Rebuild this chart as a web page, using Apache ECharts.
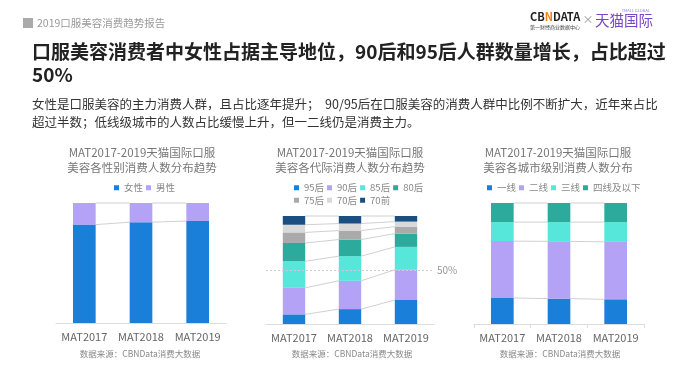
<!DOCTYPE html>
<html><head><meta charset="utf-8">
<script src="https://cdn.jsdelivr.net/npm/echarts@6/dist/echarts.min.js"></script>
<style>html,body{margin:0;padding:0;background:#fff}#c{width:700px;height:365px}</style>
</head><body><div id="c"></div>
<script>
const categories = ['MAT2017', 'MAT2018', 'MAT2019'];

const genderNames = ['女性', '男性'];
const female = [82, 84, 85];
const male = [18, 16, 15];

const genNames = ['95后', '90后', '85后', '80后', '75后', '70后', '70前'];
const gen95 = [8.9, 13.8, 22.2];
const gen90 = [24.6, 26.2, 28.0];
const gen85 = [24.6, 22.8, 21.2];
const gen80 = [16.9, 15.4, 12.3];
const gen75 = [9.8, 8.3, 6.5];
const gen70 = [7.1, 6.5, 4.6];
const genPre70 = [8.1, 7.0, 5.2];

const cityNames = ['一线', '二线', '三线', '四线及以下'];
const tier1 = [21.5, 21.0, 20.4];
const tier2 = [47.0, 47.3, 47.5];
const tier3 = [15.7, 15.9, 16.3];
const tier4 = [15.8, 15.8, 15.8];

const refLine = 50;

const FONT = '"Noto Sans CJK SC", "Noto Sans", sans-serif';
const BAR_RATIO = 0.4;
const colorsGender = ['#1A7FD9', '#B4A2F7'];
const colorsGen = ['#1A7FD9', '#B4A2F7', '#56E6DA', '#2CAB9C', '#AAAAAA', '#D9D9D9', '#1B4F82'];
const colorsCity = ['#1A7FD9', '#B4A2F7', '#56E6DA', '#2CAB9C'];

function cumLevels(arrs) {
  const levels = [];
  let acc = categories.map(() => 0);
  arrs.forEach(s => { acc = acc.map((v, i) => v + s[i]); levels.push(acc.slice()); });
  return levels;
}
function connectorSeries(idx, levels) {
  const data = [];
  levels.forEach(lv => { for (let i = 0; i < lv.length - 1; i++) data.push([i, lv[i], lv[i + 1]]); });
  return {
    type: 'custom', xAxisIndex: idx, yAxisIndex: idx, silent: true, z: 1,
    encode: { x: 0, y: 1 },
    renderItem(params, api) {
      const i = api.value(0);
      const p1 = api.coord([i, api.value(1)]);
      const p2 = api.coord([i + 1, api.value(2)]);
      const half = api.size([1, 0])[0] * BAR_RATIO / 2;
      return { type: 'line', shape: { x1: p1[0] + half, y1: p1[1], x2: p2[0] - half, y2: p2[1] },
        style: { stroke: '#d0d0d0', lineWidth: 1 } };
    },
    data
  };
}
function barSeries(idx, names, arrs, colors, stack) {
  return arrs.map((d, k) => ({
    type: 'bar', name: names[k], xAxisIndex: idx, yAxisIndex: idx, stack: stack,
    barWidth: (BAR_RATIO * 100) + '%', z: 3, itemStyle: { color: colors[k] }, data: d, silent: true
  }));
}

const genderArrs = [female, male];
const genArrs = [gen95, gen90, gen85, gen80, gen75, gen70, genPre70];
const cityArrs = [tier1, tier2, tier3, tier4];

const grids = [
  { left: 56, width: 170, top: 203, height: 120 },
  { left: 266, width: 168, top: 216, height: 108 },
  { left: 474, width: 170, top: 203, height: 121 }
];
const xAxes = grids.map((g, i) => ({
  type: 'category', gridIndex: i, data: categories,
  axisLine: { lineStyle: { color: '#dcdcdc' } },
  axisTick: { show: i === 2, alignWithLabel: false, length: 4, lineStyle: { color: '#dcdcdc' } },
  axisLabel: { color: '#666', fontSize: 11, margin: 8, fontFamily: FONT, interval: 0, hideOverlap: false }
}));
const yAxes = grids.map((g, i) => ({ type: 'value', gridIndex: i, min: 0, max: 100, show: false }));

const legendCommon = { itemWidth: 5, itemHeight: 5, itemGap: 3, icon: 'rect', padding: 0,
  textStyle: { color: '#888', fontSize: 9.5, fontFamily: FONT }, selectedMode: false };

const series = [].concat(
  barSeries(0, genderNames, genderArrs, colorsGender, 'g'),
  barSeries(1, genNames, genArrs, colorsGen, 'a'),
  barSeries(2, cityNames, cityArrs, colorsCity, 'c'),
  [connectorSeries(0, cumLevels(genderArrs)),
   connectorSeries(1, cumLevels(genArrs)),
   connectorSeries(2, cumLevels(cityArrs)),
   { type: 'line', xAxisIndex: 1, yAxisIndex: 1, data: [], z: 1, silent: true,
     markLine: { symbol: 'none', silent: true,
       lineStyle: { color: '#cccccc', type: [2, 2], width: 1 },
       label: { position: 'end', formatter: refLine + '%', color: '#999', fontSize: 10, fontFamily: FONT, distance: 3 },
       data: [{ yAxis: refLine }] } }]
);

function txt(x, y, text, opts) {
  return { type: 'text', x, y, silent: true, style: Object.assign({ text, fontFamily: FONT, fill: '#333', fontSize: 12 }, opts) };
}
const chartTitleStyle = { fill: '#777', fontSize: 11.5, align: 'center', verticalAlign: 'middle', lineHeight: 15 };
const sourceStyle = { fill: '#888', fontSize: 8.5, align: 'center', verticalAlign: 'middle' };

const graphic = [
  { type: 'rect', shape: { x: 23, y: 18, width: 10, height: 10 }, style: { fill: '#aaaaaa' }, silent: true },
  txt(37, 23, '2019口服美容消费趋势报告', { fill: '#999', fontSize: 10.5, verticalAlign: 'middle' }),
  txt(530, 16.5, '{b|CB}{n|N}{b|DATA}', { verticalAlign: 'middle',
    rich: { b: { fontSize: 11, fontWeight: 'bold', fill: '#222', fontFamily: FONT },
            n: { fontSize: 11, fontWeight: 'bold', fill: '#E8841A', fontFamily: FONT } } }),
  txt(530, 27.5, '第一财经商业数据中心', { fontSize: 5, fill: '#444', verticalAlign: 'middle' }),
  txt(588, 20, '×', { fontSize: 11, fill: '#999', verticalAlign: 'middle', align: 'center' }),
  txt(595, 20.5, '天猫国际', { fontSize: 14.5, fill: '#7A45C6', verticalAlign: 'middle' }),
  txt(650, 10, 'TMALL GLOBAL', { fontSize: 4, fill: '#9a7ad0', verticalAlign: 'middle', align: 'right' }),
  txt(32, 40.5, '口服美容消费者中女性占据主导地位，90后和95后人群数量增长，占比超过\n50%',
      { fontSize: 19, fontWeight: 'bold', fill: '#222', verticalAlign: 'top', lineHeight: 23 }),
  txt(32, 95, '女性是口服美容的主力消费人群，且占比逐年提升；  90/95后在口服美容的消费人群中比例不断扩大，近年来占比\n超过半数；低线级城市的人数占比缓慢上升，但一二线仍是消费主力。',
      { fontSize: 12.5, fill: '#333', verticalAlign: 'top', lineHeight: 18 }),
  txt(142, 153, 'MAT2017-2019天猫国际口服', chartTitleStyle),
  txt(142, 168, '美容各性别消费人数分布趋势', chartTitleStyle),
  txt(350, 153, 'MAT2017-2019天猫国际口服', chartTitleStyle),
  txt(350, 168, '美容各代际消费人数分布趋势', chartTitleStyle),
  txt(558, 153, 'MAT2017-2019天猫国际口服', chartTitleStyle),
  txt(558, 168, '美容各城市级别消费人数分布', chartTitleStyle),
  txt(140, 354, '数据来源：CBNData消费大数据', sourceStyle),
  txt(352, 354, '数据来源：CBNData消费大数据', sourceStyle),
  txt(560, 354, '数据来源：CBNData消费大数据', sourceStyle)
];

const chart = echarts.init(document.getElementById('c'), null, { renderer: 'canvas' });
chart.setOption({
  animation: false,
  textStyle: { fontFamily: FONT },
  grid: grids,
  xAxis: xAxes,
  yAxis: yAxes,
  legend: [
    Object.assign({ data: genderNames, left: 114, top: 183 }, legendCommon),
    Object.assign({ data: genNames, left: 294, top: 183, width: 140 }, legendCommon),
    Object.assign({ data: cityNames, left: 487, top: 183 }, legendCommon)
  ],
  series,
  graphic
});
</script></body></html>
